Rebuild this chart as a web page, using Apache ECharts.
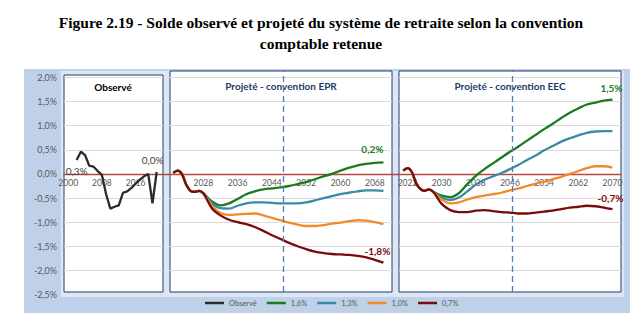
<!DOCTYPE html>
<html>
<head>
<meta charset="utf-8">
<script src="https://cdn.jsdelivr.net/npm/echarts@6/dist/echarts.min.js"></script>
<style>html,body{margin:0;padding:0;background:#fff;}#c{width:642px;height:326px;}</style>
</head>
<body>
<div id="c"></div>
<script>
// ---------- DATA ----------
const seriesNames = ['Observé', '1,6%', '1,3%', '1,0%', '0,7%'];

const obsYears = [2002,2003,2004,2005,2006,2007,2008,2009,2010,2011,2012,2013,2014,2015,2016,2017,2018,2019,2020,2021];
const obsValues = [0.29,0.46,0.39,0.17,0.15,0.06,-0.02,-0.42,-0.72,-0.68,-0.65,-0.39,-0.36,-0.29,-0.20,-0.12,-0.05,0.00,-0.61,0.04];

const projYears = [2021,2022,2023,2024,2025,2026,2027,2028,2030,2032,2034,2036,2038,2040,2042,2044,2046,2048,2050,2052,2054,2056,2058,2060,2062,2064,2066,2068,2070];

// Convention EPR
const eprStart = [0.02,0.07,0.00,-0.22,-0.35,-0.37,-0.35,-0.40];
const epr16 = [-0.57,-0.65,-0.61,-0.52,-0.42,-0.36,-0.32,-0.30,-0.28,-0.25,-0.21,-0.17,-0.11,-0.05,0.00,0.07,0.13,0.18,0.21,0.23,0.24];
const epr13 = [-0.61,-0.71,-0.72,-0.66,-0.61,-0.59,-0.59,-0.60,-0.61,-0.61,-0.61,-0.59,-0.55,-0.50,-0.46,-0.42,-0.39,-0.36,-0.34,-0.34,-0.35];
const epr10 = [-0.66,-0.81,-0.85,-0.84,-0.83,-0.82,-0.86,-0.91,-0.96,-1.01,-1.05,-1.08,-1.08,-1.06,-1.03,-1.01,-0.98,-0.96,-0.97,-1.00,-1.04];
const epr07 = [-0.71,-0.86,-0.95,-1.00,-1.04,-1.10,-1.18,-1.27,-1.35,-1.43,-1.50,-1.56,-1.61,-1.64,-1.66,-1.67,-1.68,-1.70,-1.73,-1.78,-1.84];

// Convention EEC
const eecStart = [0.07,0.12,0.04,-0.19,-0.31,-0.35,-0.32,-0.37];
const eec16 = [-0.45,-0.48,-0.40,-0.21,-0.04,0.10,0.22,0.34,0.46,0.57,0.69,0.81,0.93,1.04,1.16,1.27,1.36,1.44,1.48,1.52,1.54];
const eec13 = [-0.49,-0.54,-0.49,-0.36,-0.22,-0.12,-0.05,0.02,0.10,0.19,0.29,0.38,0.49,0.58,0.67,0.74,0.80,0.85,0.88,0.89,0.89];
const eec10 = [-0.53,-0.61,-0.59,-0.53,-0.48,-0.45,-0.42,-0.39,-0.34,-0.30,-0.25,-0.20,-0.16,-0.11,-0.06,0.00,0.06,0.12,0.16,0.16,0.13];
const eec07 = [-0.62,-0.75,-0.79,-0.79,-0.76,-0.75,-0.77,-0.79,-0.80,-0.82,-0.82,-0.80,-0.78,-0.76,-0.73,-0.70,-0.68,-0.66,-0.67,-0.70,-0.73];

// Axes
const yMin = -2.5, yMax = 2.0, yStep = 0.5;
const obsTickYears = [2000, 2008, 2016];
const eprTickYears = [2028, 2036, 2044, 2052, 2060, 2068];
const eecTickYears = [2022, 2030, 2038, 2046, 2054, 2062, 2070];
const markYear = 2046.5;

// ---------- STYLE ----------
const FONT = 'Lato, "Liberation Sans", sans-serif';
const colors = {'Observé':'#2b2b2b','1,6%':'#1c7a1f','1,3%':'#3b8aa6','1,0%':'#f08b2a','0,7%':'#7a0b0b'};
const GREY = '#595959';
const LW = 2.3;
const fmt = v => v.toFixed(1).replace('.', ',') + '%';

// layout (pixels)
const Y_TOP = 77.5, Y_H = 217;
// distance from the grid bottom up to the zero line (x-axis sits on zero, as in the reference)
const ZERO_OFFSET = -(0 - yMin) / (yMax - yMin) * Y_H;
const frames = [
  {left:64, top:75, width:99, height:217},
  {left:170, top:71, width:222, height:221},
  {left:399, top:71, width:222, height:221}
];
const dataGrids = [
  {left:64, width:99, min:1999, max:2022.5, ticks:obsTickYears},
  {left:169, width:223, min:2020, max:2072, ticks:eprTickYears},
  {left:399, width:222, min:2020, max:2072, ticks:eecTickYears}
];

const grid = [], xAxis = [], yAxis = [], series = [];

// grid 0 : global (y labels, zero line)
grid.push({left:64, top:Y_TOP, width:557, height:Y_H, show:false});
xAxis.push({type:'value', gridIndex:0, min:0, max:1, z:2,
  axisLine:{show:true, onZero:true, lineStyle:{color:'#b04a44', width:1.3}},
  axisTick:{show:false}, axisLabel:{show:false}, splitLine:{show:false}});
yAxis.push({type:'value', gridIndex:0, min:yMin, max:yMax, interval:yStep, z:2,
  axisLine:{show:false}, axisTick:{show:false}, splitLine:{show:false},
  axisLabel:{fontSize:9, color:GREY, fontFamily:FONT, margin:7, formatter:fmt}});
series.push({type:'line', xAxisIndex:0, yAxisIndex:0, data:[], silent:true});

// grids 1..3 : panel frames
frames.forEach((f, i) => {
  grid.push(Object.assign({show:true, backgroundColor:'#ffffff', borderColor:'#243a6b', borderWidth:1, z:0}, f));
  xAxis.push({type:'value', gridIndex:1+i, show:false, min:dataGrids[i].min, max:dataGrids[i].max});
  yAxis.push({type:'value', gridIndex:1+i, show:false, min:0, max:1});
});
// dashed reference lines in projection panels
[2, 3].forEach(gi => {
  series.push({type:'line', xAxisIndex:gi, yAxisIndex:gi, data:[], silent:true,
    markLine:{silent:true, symbol:'none', label:{show:false},
      lineStyle:{color:'#4f7fb8', type:[6,4], width:1.3},
      data:[{xAxis:markYear}]}});
});

// grids 4..6 : data
dataGrids.forEach((d, i) => {
  grid.push({left:d.left, top:Y_TOP, width:d.width, height:Y_H, show:false});
  xAxis.push({type:'value', gridIndex:4+i, min:d.min, max:d.max, interval:1, z:1,
    position:'bottom', offset:ZERO_OFFSET,
    axisLine:{show:false, onZero:false}, axisTick:{show:false}, splitLine:{show:false},
    axisLabel:{fontSize:8.5, color:GREY, fontFamily:FONT, margin:5,
      formatter: v => d.ticks.includes(v) ? String(v) : ''}});
  yAxis.push({type:'value', gridIndex:4+i, min:yMin, max:yMax, interval:yStep, z:1,
    axisLine:{show:false, onZero:false}, axisTick:{show:false}, axisLabel:{show:false},
    splitLine:{show:true, showMinLine:false, lineStyle:{color:'#d9d9d9', width:1}}});
});

function pt(x, y, lbl) {
  const o = {value:[x, y]};
  if (lbl) o.label = Object.assign({show:true, formatter: () => fmt(y), fontFamily:FONT}, lbl);
  return o;
}

// Observed
series.push({
  name:'Observé', type:'line', xAxisIndex:4, yAxisIndex:4, z:3,
  showSymbol:true, symbol:'circle', symbolSize:0, smooth:false,
  lineStyle:{color:colors['Observé'], width:LW}, itemStyle:{color:colors['Observé']},
  data: obsYears.map((yr, i) => {
    if (i === 0) return pt(yr, obsValues[i], {position:'bottom', offset:[0,1], fontSize:10, color:'#404040'});
    if (i === obsYears.length - 1) return pt(yr, obsValues[i], {position:'top', offset:[-4,-2], fontSize:10, color:'#404040'});
    return pt(yr, obsValues[i]);
  })
});

function projSeries(name, start, vals, xi, lbl) {
  const all = start.concat(vals);
  return {
    name, type:'line', xAxisIndex:xi, yAxisIndex:xi, z:3,
    showSymbol:true, symbol:'circle', symbolSize:0, smooth:0.35,
    lineStyle:{color:colors[name], width:LW}, itemStyle:{color:colors[name]},
    data: projYears.map((yr, i) => (lbl && i === projYears.length - 1)
      ? pt(yr, all[i], Object.assign({position:'top', fontSize:10, fontWeight:'bold', color:colors[name]}, lbl))
      : pt(yr, all[i]))
  };
}
series.push(projSeries('1,6%', eprStart, epr16, 5, {offset:[-11,-3]}));
series.push(projSeries('1,3%', eprStart, epr13, 5));
series.push(projSeries('1,0%', eprStart, epr10, 5));
series.push(projSeries('0,7%', eprStart, epr07, 5, {offset:[-6,-2]}));
series.push(projSeries('1,6%', eecStart, eec16, 6, {offset:[-1,-2]}));
series.push(projSeries('1,3%', eecStart, eec13, 6));
series.push(projSeries('1,0%', eecStart, eec10, 6));
series.push(projSeries('0,7%', eecStart, eec07, 6, {offset:[-2,-1]}));

const option = {
  animation:false,
  backgroundColor:'#ffffff',
  textStyle:{fontFamily:FONT},
  graphic:[
    {type:'rect', z:-2, silent:true, shape:{x:24, y:69, width:606, height:244}, style:{fill:'#bfd1e8'}},
    {type:'rect', z:-1, silent:true, shape:{x:61, y:71, width:563, height:226}, style:{fill:'#dde7f3'}},
    {type:'text', z:5, x:321, y:22, style:{text:'Figure 2.19 - Solde observé et projeté du système de retraite selon la convention', align:'center', verticalAlign:'middle', font:'bold 15.5px "Liberation Serif", serif', fill:'#000'}},
    {type:'text', z:5, x:321, y:43, style:{text:'comptable retenue', align:'center', verticalAlign:'middle', font:'bold 15.5px "Liberation Serif", serif', fill:'#000'}},
    {type:'text', z:5, x:113, y:87, style:{text:'Observé', align:'center', verticalAlign:'middle', font:'bold 10px Lato, sans-serif', fill:'#000'}},
    {type:'text', z:5, x:281, y:86, style:{text:'Projeté - convention EPR', align:'center', verticalAlign:'middle', font:'bold 10px Lato, sans-serif', fill:'#1f3864'}},
    {type:'text', z:5, x:510, y:86, style:{text:'Projeté - convention EEC', align:'center', verticalAlign:'middle', font:'bold 10px Lato, sans-serif', fill:'#1f3864'}}
  ],
  legend:{
    data:seriesNames, left:205, top:299, padding:0, icon:'rect', itemWidth:19, itemHeight:2.5,
    itemGap:10, itemTextGap:2, selectedMode:false,
    textStyle:{fontSize:7.5, color:GREY, fontFamily:FONT}
  },
  grid, xAxis, yAxis, series
};

const chart = echarts.init(document.getElementById('c'), null, {renderer:'svg'});
chart.setOption(option);
</script>
</body>
</html>
